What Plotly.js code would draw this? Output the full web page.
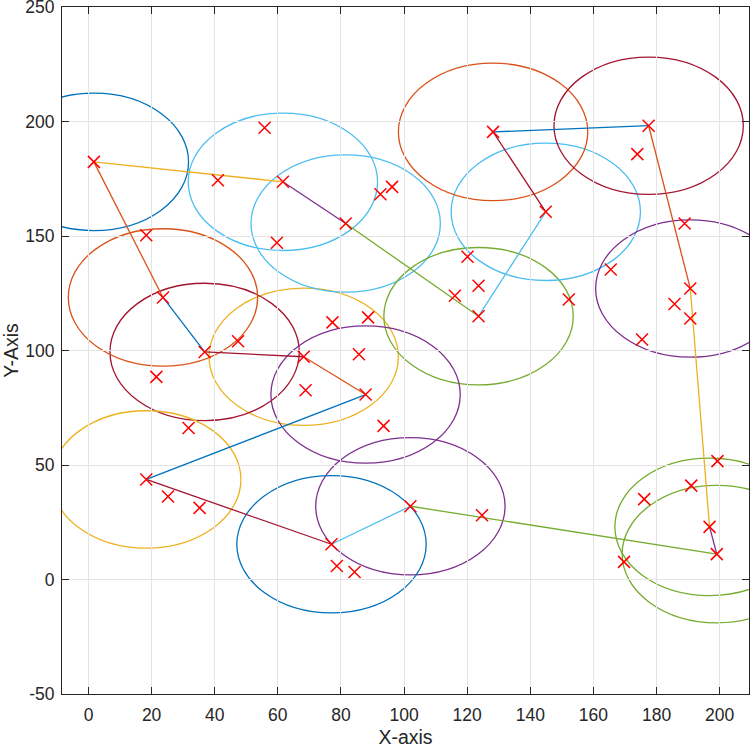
<!DOCTYPE html>
<html>
<head>
<meta charset="utf-8">
<script src="https://cdn.plot.ly/plotly-3.0.1.min.js"></script>
<style>html,body{margin:0;padding:0;background:#fff;}#chart{width:750px;height:748px;}</style>
</head>
<body>
<div id="chart"></div>
<script>
// Cluster heads, in tour order
var headX = [68.2, 36.8, 23.6, 1.7, 61.6, 81.5, 123.6, 144.9, 128.2, 177.5, 190.7, 196.8, 199.1, 102.0, 77.0, 18.3, 87.8];
var headY = [97.3, 99.4, 123.2, 182.4, 173.7, 155.5, 115.0, 160.6, 195.5, 198.2, 127.1, 23.0, 11.1, 32.0, 15.4, 43.7, 80.8];
// Member (non-head) nodes
var memberX = [41.0, 18.3, 55.8, 59.7, 92.5, 96.2, 120.1, 173.9, 188.9, 123.6, 116.1, 77.3, 88.6, 85.7, 68.8, 93.5, 47.4, 21.5, 31.7, 25.2, 35.2, 78.7, 84.3, 124.7, 152.2, 165.5, 185.7, 190.7, 175.4, 199.3, 191.0, 176.1, 169.7];
var memberY = [174.4, 150.4, 197.3, 147.1, 168.3, 171.5, 141.0, 185.8, 155.5, 128.3, 123.9, 112.3, 114.5, 98.4, 82.7, 67.1, 104.1, 88.5, 66.2, 36.3, 31.3, 5.9, 3.3, 28.1, 122.3, 135.4, 120.3, 114.0, 104.8, 51.7, 41.0, 35.1, 7.7];
var radius = 30;
var xTicks = [0, 20, 40, 60, 80, 100, 120, 140, 160, 180, 200];
var yTicks = [-50, 0, 50, 100, 150, 200, 250];

// styles
var C = {b:'#0072BD', o:'#D95319', y:'#EDB120', p:'#7E2F8E', g:'#77AC30', lb:'#4DBEEE', dr:'#A2142F'};
var circleColors = [C.y, C.dr, C.o, C.b, C.lb, C.lb, C.g, C.lb, C.o, C.dr, C.p, C.g, C.g, C.p, C.b, C.y, C.p];
var segOrder = [C.dr, C.b, C.o, C.y, C.p, C.g, C.lb];

var traces = [];
var n = headX.length;
for (var i = 0; i < n; i++) {
  var j = (i + 1) % n;
  traces.push({
    type: 'scatter', mode: 'lines',
    x: [headX[i], headX[j]], y: [headY[i], headY[j]],
    line: {color: segOrder[i % segOrder.length], width: 1.3},
    hoverinfo: 'skip', showlegend: false
  });
}
traces.push({
  type: 'scatter', mode: 'markers',
  x: memberX.concat(headX), y: memberY.concat(headY),
  marker: {symbol: 'x-thin', size: 12, color: '#FF0000', line: {color: '#FF0000', width: 1.5}},
  showlegend: false
});

var shapes = [];
for (var k = 0; k < n; k++) {
  shapes.push({
    type: 'circle', xref: 'x', yref: 'y', layer: 'below',
    x0: headX[k] - radius, x1: headX[k] + radius,
    y0: headY[k] - radius, y1: headY[k] + radius,
    line: {color: circleColors[k], width: 1.3}, fillcolor: 'rgba(0,0,0,0)'
  });
}

var font = 'Liberation Sans, Arial, Helvetica, sans-serif';
var axisCommon = {
  ticks: 'inside', ticklen: 7, tickwidth: 1, tickcolor: '#262626',
  showline: true, linecolor: '#262626', linewidth: 1, mirror: 'allticks',
  showgrid: true, gridcolor: '#e4e4e4', gridwidth: 1, zeroline: false,
  ticklabeloverflow: 'allow',
  tickfont: {family: font, size: 17.5, color: '#262626'}
};
var layout = {
  width: 750, height: 748,
  margin: {l: 62, r: 1, t: 7, b: 54},
  paper_bgcolor: '#ffffff', plot_bgcolor: '#ffffff',
  showlegend: false,
  xaxis: Object.assign({}, axisCommon, {
    range: [-8.4, 209.3], tickvals: xTicks, ticktext: xTicks.map(String),
    ticklabelstandoff: 5,
    title: {text: 'X-axis', font: {family: font, size: 19.5, color: '#262626'}, standoff: 6}
  }),
  yaxis: Object.assign({}, axisCommon, {
    range: [-50, 250.05], tickvals: yTicks, ticktext: yTicks.map(String),
    ticklabelstandoff: 3,
    title: {text: 'Y-Axis', font: {family: font, size: 19.5, color: '#262626'}, standoff: 5}
  }),
  shapes: shapes
};
Plotly.newPlot('chart', traces, layout, {displayModeBar: false, staticPlot: true});
</script>
</body>
</html>
